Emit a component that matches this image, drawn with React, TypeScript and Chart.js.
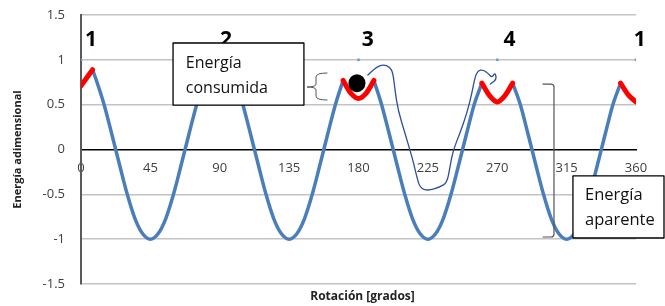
import React, { useEffect, useRef } from 'react';
import { Chart, registerables } from 'chart.js';

Chart.register(...registerables);

// ---- data ----
const xTickValues = [0, 45, 90, 135, 180, 225, 270, 315, 360];
const yTickLabels = ['-1.5', '-1', '-0.5', '0', '0.5', '1', '1.5'];

// blue curve: energía aparente (null = break where the red arc takes over)
const blueAngles = [
  7.5, 10, 15, 20, 25, 30, 35, 40, 45, 50, 55, 60, 65, 70, 75, 80,
  90,
  100, 105, 110, 115, 120, 125, 130, 135, 140, 145, 150, 155, 160, 165, 170,
  180,
  190, 195, 200, 205, 210, 215, 220, 225, 230, 235, 240, 245, 250, 255, 260,
  270,
  280, 285, 290, 295, 300, 305, 310, 315, 320, 325, 330, 335, 340, 345, 350,
];
const blueValues = [
  0.89, 0.77, 0.5, 0.17, -0.17, -0.5, -0.77, -0.94, -1, -0.94, -0.77, -0.5, -0.17, 0.17, 0.5, 0.77,
  null,
  0.77, 0.5, 0.17, -0.17, -0.5, -0.77, -0.94, -1, -0.94, -0.77, -0.5, -0.17, 0.17, 0.5, 0.77,
  null,
  0.77, 0.5, 0.17, -0.17, -0.5, -0.77, -0.94, -1, -0.94, -0.77, -0.5, -0.17, 0.17, 0.5, 0.74,
  null,
  0.74, 0.5, 0.17, -0.17, -0.5, -0.77, -0.94, -1, -0.94, -0.77, -0.5, -0.17, 0.17, 0.5, 0.74,
];

// red arcs: energía consumida
const redAngles = [
  0, 7.5,
  45,
  80, 85, 90, 95, 100,
  135,
  170, 175, 180, 185, 190,
  225,
  260, 265, 270, 275, 280,
  315,
  350, 355, 360,
];
const redValues = [
  0.71, 0.89,
  null,
  0.77, 0.62, 0.55, 0.62, 0.77,
  null,
  0.77, 0.63, 0.57, 0.63, 0.77,
  null,
  0.74, 0.6, 0.53, 0.6, 0.74,
  null,
  0.74, 0.61, 0.53,
];

// small markers on the 1 line
const markAngles = [0, 90, 180, 270, 360];
const markValues = [1, 1, 1, 1, 1];

// position labels 1..4
const posLabels = ['1', '2', '3', '4', '1'];
const posLabelAngles = [6.5, 94, 186, 278, 362.5];
const posLabelLevel = 1.22;

// black ball
const ballAngle = 179;
const ballValue = 0.74;

// hand-drawn path (data units)
const pathAngles = [186.1, 190.7, 195.9, 200.4, 202.4, 203.7, 205.6, 210.2, 213.4, 215.3, 217.9, 219.9, 225.1, 232.8, 237.4, 239.3, 241.3, 245.8, 250.4, 253.6, 255.6, 257.5, 260.7, 264.0, 266.6, 268.6, 269.6, 265.5];
const pathValues = [0.83, 0.91, 0.95, 0.92, 0.85, 0.66, 0.44, 0.18, -0.01, -0.12, -0.31, -0.43, -0.46, -0.42, -0.37, -0.2, -0.01, 0.18, 0.41, 0.63, 0.81, 0.88, 0.89, 0.85, 0.8, 0.86, 0.78, 0.73];

// annotation boxes
const boxConsumida = { x0: 59.7, x1: 144.6, y0: 1.188, y1: 0.496, textX: 68, lines: ['Energía', 'consumida'], baselines: [0.905, 0.63] };
const boxAparente = { x0: 319.1, x1: 380, y0: -0.295, y1: -0.987, textX: 326.9, lines: ['Energía', 'aparente'], baselines: [-0.565, -0.845] };

// brace next to "Energía consumida"
const braceAngles = [146.6, 159.6];
const braceValues = [0.853, 0.697, 0.552];

// bracket for "Energía aparente"
const bracketAngles = [299.7, 306.8];
const bracketValues = [0.73, -0.976];

const xTitle = 'Rotación [grados]';
const yTitle = 'Energía adimensional';

const annotPlugin = {
  id: 'annot',
  afterDatasetsDraw(chart: any) {
    const ctx: CanvasRenderingContext2D = chart.ctx;
    const xs = chart.scales.x;
    const ys = chart.scales.y;
    const px = (v: number) => xs.getPixelForValue(v);
    const py = (v: number) => ys.getPixelForValue(v);
    const area = chart.chartArea;
    ctx.save();

    // hand-drawn blue path
    ctx.strokeStyle = '#2c4f9e';
    ctx.lineWidth = 1.3;
    ctx.lineJoin = 'round';
    ctx.lineCap = 'round';
    ctx.beginPath();
    const pts = pathAngles.map((a, i) => [px(a), py(pathValues[i])]);
    ctx.moveTo(pts[0][0], pts[0][1]);
    for (let i = 1; i < pts.length - 1; i++) {
      const mx = (pts[i][0] + pts[i + 1][0]) / 2;
      const my = (pts[i][1] + pts[i + 1][1]) / 2;
      ctx.quadraticCurveTo(pts[i][0], pts[i][1], mx, my);
    }
    ctx.lineTo(pts[pts.length - 1][0], pts[pts.length - 1][1]);
    ctx.stroke();

    // black ball
    ctx.fillStyle = '#000';
    ctx.beginPath();
    ctx.ellipse(px(ballAngle), py(ballValue), 8.5, 9, 0, 0, Math.PI * 2);
    ctx.fill();

    // boxes
    const drawBox = (b: any, size: number) => {
      const x0 = px(b.x0), x1 = Math.min(px(b.x1), chart.width - 1), y0 = py(b.y0), y1 = py(b.y1);
      ctx.fillStyle = '#fff';
      ctx.fillRect(x0, y0, x1 - x0, y1 - y0);
      ctx.strokeStyle = '#000';
      ctx.lineWidth = 1.3;
      ctx.strokeRect(x0, y0, x1 - x0, y1 - y0);
      ctx.fillStyle = '#111';
      ctx.font = `${size}px "Open Sans"`;
      ctx.textAlign = 'left';
      ctx.textBaseline = 'alphabetic';
      b.lines.forEach((t: string, i: number) => ctx.fillText(t, px(b.textX), py(b.baselines[i])));
    };
    drawBox(boxConsumida, 16);
    drawBox(boxAparente, 16.5);

    // brace
    ctx.strokeStyle = '#555';
    ctx.lineWidth = 1;
    const bl = px(braceAngles[0]), br = px(braceAngles[1]);
    const bm = (bl + br) / 2 - 1;
    const bt = py(braceValues[0]), bc = py(braceValues[1]), bb = py(braceValues[2]);
    ctx.beginPath();
    ctx.moveTo(br, bt);
    ctx.quadraticCurveTo(bm, bt, bm, bt + 4);
    ctx.lineTo(bm, bc - 3);
    ctx.quadraticCurveTo(bm, bc, bl, bc);
    ctx.quadraticCurveTo(bm, bc, bm, bc + 3);
    ctx.lineTo(bm, bb - 4);
    ctx.quadraticCurveTo(bm, bb, br, bb);
    ctx.stroke();

    // bracket
    ctx.strokeStyle = '#555';
    ctx.lineWidth = 1.2;
    const kl = px(bracketAngles[0]), kr = px(bracketAngles[1]);
    const kt = py(bracketValues[0]), kb = py(bracketValues[1]);
    ctx.beginPath();
    ctx.moveTo(kl, kt);
    ctx.lineTo(kr - 3, kt);
    ctx.quadraticCurveTo(kr, kt, kr, kt + 3);
    ctx.lineTo(kr, kb - 3);
    ctx.quadraticCurveTo(kr, kb, kr - 3, kb);
    ctx.lineTo(kl, kb);
    ctx.stroke();

    // position numbers
    ctx.fillStyle = '#000';
    ctx.font = 'bold 21px "Open Sans"';
    ctx.textAlign = 'center';
    ctx.textBaseline = 'middle';
    posLabels.forEach((t, i) => {
      if (t === '2') return;
      ctx.fillText(t, px(posLabelAngles[i]), py(posLabelLevel));
    });

    // axis titles
    ctx.fillStyle = '#222';
    ctx.textAlign = 'center';
    ctx.textBaseline = 'middle';
    ctx.font = 'bold 12px "Open Sans"';
    ctx.fillText(xTitle, (area.left + area.right) / 2 + 4, 297);
    ctx.save();
    ctx.font = 'bold 11px "Open Sans"';
    ctx.translate(18, (area.top + area.bottom) / 2);
    ctx.rotate(-Math.PI / 2);
    ctx.fillText(yTitle, 0, 0);
    ctx.restore();

    ctx.restore();
  },
  beforeDatasetsDraw(chart: any) {
    // label "2" partially hidden behind the box: draw it before datasets
    const ctx: CanvasRenderingContext2D = chart.ctx;
    const xs = chart.scales.x;
    const ys = chart.scales.y;
    ctx.save();
    ctx.fillStyle = '#000';
    ctx.font = 'bold 21px "Open Sans"';
    ctx.textAlign = 'center';
    ctx.textBaseline = 'middle';
    posLabels.forEach((t, i) => {
      if (t !== '2') return;
      ctx.fillText(t, xs.getPixelForValue(posLabelAngles[i]), ys.getPixelForValue(posLabelLevel));
    });
    ctx.restore();
  },
};

export default function App() {
  const ref = useRef<HTMLCanvasElement | null>(null);
  useEffect(() => {
    if (!ref.current) return;
    const toPts = (xs: number[], ys: (number | null)[]) => xs.map((x, i) => ({ x, y: ys[i] }));
    const chart = new Chart(ref.current, {
      type: 'line',
      data: {
        datasets: [
          {
            label: 'Energía consumida',
            data: toPts(redAngles, redValues) as any,
            borderColor: '#ff0000',
            borderWidth: 5,
            borderCapStyle: 'round',
            borderJoinStyle: 'round',
            pointRadius: 0,
            cubicInterpolationMode: 'monotone',
            spanGaps: false,
          },
          {
            label: 'Energía aparente',
            data: toPts(blueAngles, blueValues) as any,
            borderColor: '#4a7ebb',
            borderWidth: 3.5,
            pointRadius: 0,
            cubicInterpolationMode: 'monotone',
            spanGaps: false,
          },
          {
            label: 'marcas',
            data: toPts(markAngles, markValues) as any,
            showLine: false,
            pointRadius: 1.5,
            pointBackgroundColor: '#6d9bd6',
            pointBorderWidth: 0,
          },
        ],
      },
      options: {
        responsive: false,
        animation: false,
        events: [],
        layout: { padding: { left: 0, top: 15, right: 29, bottom: 22 } },
        plugins: { legend: { display: false }, tooltip: { enabled: false }, title: { display: false } },
        scales: {
          x: {
            type: 'linear',
            min: 0,
            max: 360,
            position: { y: 0 } as any,
            afterFit: (s: any) => { s.height = 0; s.paddingLeft = 0; s.paddingRight = 0; },
            grid: { display: true, drawOnChartArea: false, drawTicks: false },
            border: { display: true, color: '#000', width: 1.5 },
            ticks: {
              stepSize: 45,
              autoSkip: false,
              maxRotation: 0,
              padding: 11,
              color: '#404040',
              font: { family: 'Open Sans', size: 13 },
            },
            afterBuildTicks: (s: any) => { s.ticks = xTickValues.map((v) => ({ value: v })); },
          },
          y: {
            type: 'linear',
            min: -1.5,
            max: 1.5,
            afterFit: (s: any) => { s.width = 81; s.paddingTop = 0; s.paddingBottom = 0; },
            afterBuildTicks: (s: any) => { s.ticks = yTickLabels.map((t) => ({ value: Number(t) })); },
            grid: {
              drawTicks: false,
              color: (c: any) => (c.tick && c.tick.value === 0 ? 'rgba(0,0,0,0)' : '#c3c3c3'),
              lineWidth: 1.5,
            },
            border: { display: true, color: '#5a5a5a', width: 2 },
            ticks: {
              padding: 16,
              color: '#404040',
              font: { family: 'Open Sans', size: 13 },
              callback: (v: any) => yTickLabels.find((t) => Number(t) === Number(v)) ?? String(v),
            },
          },
        },
      },
      plugins: [annotPlugin],
    });
    return () => chart.destroy();
  }, []);
  return (
    <div style={{ position: 'fixed', left: 0, top: 0, width: 665, height: 306, background: '#fff' }}>
      <canvas ref={ref} width={665} height={306} style={{ display: 'block', width: 665, height: 306 }} />
    </div>
  );
}
